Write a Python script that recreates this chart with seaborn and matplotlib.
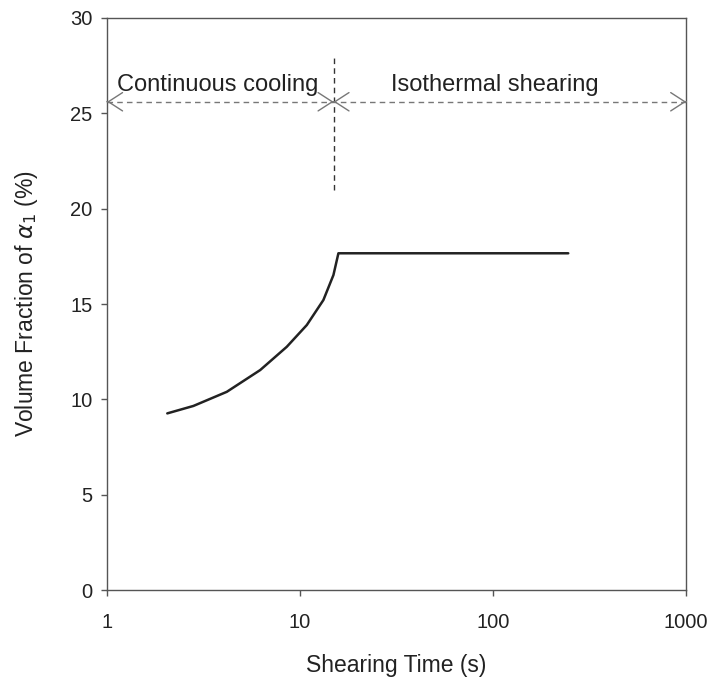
import matplotlib
matplotlib.use("Agg")
import matplotlib.pyplot as plt
import seaborn as sns
import pandas as pd

# Shearing time (s) and volume fraction of primary alpha (%)
cooling_time = [2.05, 2.80, 4.17, 6.21, 8.53, 10.83, 13.2, 14.88, 15.79]
cooling_frac = [9.27, 9.66, 10.40, 11.54, 12.76, 13.90, 15.21, 16.52, 17.66]
shear_time = [15.79, 245.0]
shear_frac = [17.66, 17.66]

x_ticks = [1, 10, 100, 1000]
x_tick_labels = ["1", "10", "100", "1000"]
y_ticks = [0, 5, 10, 15, 20, 25, 30]

transition_time = 14.9
region_labels = ["Continuous cooling", "Isothermal shearing"]

sns.set_theme(style="white")
plt.rcParams["font.family"] = ["Liberation Sans", "DejaVu Sans"]

fig = plt.figure(figsize=(7.14, 6.84), dpi=100)
ax = fig.add_axes([0.150, 0.137, 0.811, 0.837])

curve = pd.DataFrame({
    "time": cooling_time + shear_time,
    "frac": cooling_frac + shear_frac,
})
sns.lineplot(data=curve, x="time", y="frac", ax=ax, color="#222222",
             linewidth=1.8, sort=False, estimator=None)

ax.set_xscale("log")
ax.set_xlim(1, 1000)
ax.set_ylim(0, 30)
ax.set_xticks(x_ticks)
ax.set_xticklabels(x_tick_labels)
ax.set_yticks(y_ticks)
ax.minorticks_off()

for s in ax.spines.values():
    s.set_color("#555555")
    s.set_linewidth(1.0)
ax.tick_params(axis="both", direction="out", length=4.5, width=1.0,
               color="#555555", labelsize=14.5, labelcolor="#222222", pad=6)
ax.tick_params(axis="x", pad=12)
ax.tick_params(top=False, right=False, bottom=True, left=True)

ax.set_xlabel("Shearing Time (s)", fontsize=16.5, color="#222222", labelpad=16)
ax.set_ylabel(r"Volume Fraction of $\alpha_1$ (%)", fontsize=16.5,
              color="#222222", labelpad=22)

# Vertical dashed separator between the two regimes
ax.plot([transition_time, transition_time], [21.0, 28.0], color="#333333",
        linestyle=(0, (4, 3)), linewidth=1.0)

# Dashed spans for each regime with open chevron heads at both ends
arrow_y = 25.6
ax.plot([1.0, 1000.0], [arrow_y, arrow_y], color="#777777",
        linestyle=(0, (4, 3)), linewidth=1.0)
head_style = dict(arrowstyle="->,head_length=0.85,head_width=0.55",
                  color="#777777", linewidth=1.0, shrinkA=0, shrinkB=0)
for tip, direction in [(1.0, 1.001), (transition_time, 1 / 1.001),
                       (transition_time, 1.001), (1000.0, 1 / 1.001)]:
    ax.annotate("", xy=(tip, arrow_y), xytext=(tip * direction, arrow_y),
                arrowprops=head_style)

ax.text(3.75, 26.5, region_labels[0], ha="center", va="center",
        fontsize=17, color="#222222")
ax.text(102, 26.5, region_labels[1], ha="center", va="center",
        fontsize=17, color="#222222")

fig.savefig("out.png", dpi=100, facecolor="white")
